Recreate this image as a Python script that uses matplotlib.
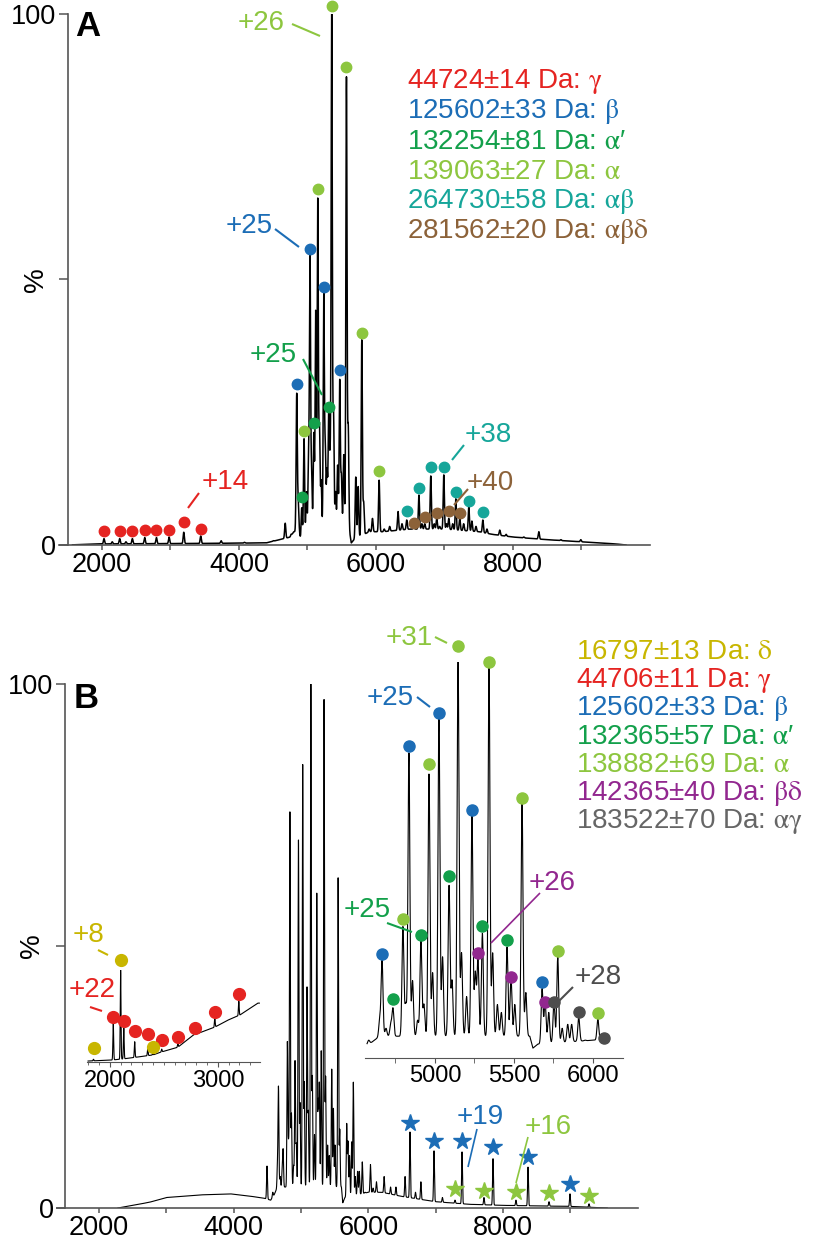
import numpy as np
import matplotlib
matplotlib.use("Agg")
import matplotlib.pyplot as plt
from matplotlib.lines import Line2D

plt.rcParams['font.family'] = ['Liberation Sans', 'DejaVu Sans']
plt.rcParams['mathtext.fontset'] = 'stix'

# ---------------- colours ----------------
C_GAMMA = '#E52421'
C_BETA = '#1C6DB6'
C_APRIME = '#13A04B'
C_ALPHA = '#8DC63F'
C_AB = '#16A69A'
C_ABD = '#8C6239'
C_DELTA = '#C8B600'
C_BD = '#92278F'
C_AG = '#4D4D4D'
C_AG_TXT = '#666666'

# ---------------- panel A data ----------------
A_base_mz = [1500, 1950, 3500, 4400, 4750, 4800, 4880, 4900, 5600, 5640, 5680, 5900, 6100, 6500, 7000, 7500, 7700, 8000, 8500, 9000, 9500, 9650]
A_base_y = [0, 0.2, 0.3, 0.4, 1.5, 2.5, 2.5, 1.0, 3.5, 0.4, 1.0, 2.5, 2.5, 3.0, 3.0, 2.5, 2.0, 1.5, 1.0, 0.6, 0.2, 0]
A_peak_mz = [2030, 2150, 2259, 2350, 2444, 2624, 2795, 2980, 3194, 3442, 3740, 4080, 4500, 4675, 4760,
             4843, 4865, 4916, 4950, 4985, 5015, 5037, 5060, 5092, 5120, 5150, 5175, 5200, 5238, 5260,
             5285, 5310, 5330, 5354, 5380, 5410, 5440, 5471, 5495, 5530, 5569, 5595, 5705, 5740, 5793,
             5820, 5900, 5949, 6046, 6120, 6200, 6322, 6380, 6449, 6508, 6552, 6627, 6670, 6712, 6760,
             6800, 6850, 6887, 6930, 6990, 7030, 7063, 7120, 7165, 7223, 7280, 7355, 7400, 7460, 7560,
             7620, 7807, 7900, 8158, 8377, 8700, 8990]
A_peak_h = [1.2, 0.6, 1.2, 0.6, 1.2, 1.4, 1.4, 1.5, 2.4, 1.7, 0.8, 0.5, 0.8, 4.1, 2.0,
            28.4, 8, 7, 20, 10, 16, 54, 14, 21, 44, 65, 22, 12, 47, 18,
            14, 24.5, 15, 100, 25, 10, 15, 31, 13, 17, 88, 22, 12.8, 11, 38.6,
            8, 3, 5, 12.2, 3, 3.5, 6.3, 4, 4.7, 3, 3.5, 9.4, 4, 4, 3,
            13, 4, 5, 3.5, 13.2, 4, 5, 4, 8.7, 5, 4, 7.2, 4.5, 3.5, 4.7,
            3, 2.8, 2, 1.5, 2.5, 1, 1]

A_gamma_mz = [2030, 2259, 2444, 2624, 2795, 2980, 3194, 3442]
A_gamma_y = [2.7, 2.7, 2.7, 2.8, 2.8, 2.9, 4.4, 3.1]
A_beta_mz = [4843, 5037, 5238, 5471]
A_beta_y = [30.3, 55.8, 48.6, 33.0]
A_aprime_mz = [4916, 5092, 5310]
A_aprime_y = [9.0, 23.0, 26.0]
A_alpha_mz = [4950, 5150, 5354, 5569, 5793, 6046]
A_alpha_y = [21.5, 67.0, 101.6, 90.0, 40.0, 14.0]
A_ab_mz = [6449, 6627, 6800, 6990, 7165, 7355, 7560]
A_ab_y = [6.4, 10.7, 14.7, 14.7, 10.0, 8.3, 6.2]
A_abd_mz = [6552, 6712, 6887, 7063, 7223]
A_abd_y = [4.1, 5.3, 6.0, 6.4, 6.0]

A_legend = ["44724±14 Da: $\\mathrm{\\gamma}$", "125602±33 Da: $\\mathrm{\\beta}$",
            "132254±81 Da: $\\mathrm{\\alpha}$′", "139063±27 Da: $\\mathrm{\\alpha}$",
            "264730±58 Da: $\\mathrm{\\alpha\\beta}$", "281562±20 Da: $\\mathrm{\\alpha\\beta\\delta}$"]
A_legend_colors = [C_GAMMA, C_BETA, C_APRIME, C_ALPHA, C_AB, C_ABD]

# ---------------- panel B data (main + high m/z inset share one spectrum) ----------------
B_base_mz = [1500, 2280, 2500, 2750, 3000, 3500, 3950, 4220, 4440, 4550, 4600, 4650, 5600, 5620, 5650, 6000, 6200, 6500, 7000, 7500, 8000, 9000, 9550]
B_base_y = [0, 0, 0.5, 1.1, 2.0, 2.5, 2.7, 2.3, 1.9, 1.5, 2.5, 4.0, 4.0, 1.0, 2.0, 3.0, 3.0, 2.2, 1.2, 0.7, 0.5, 0.3, 0]
B_peak_mz = [4495, 4580, 4650, 4665, 4690, 4720, 4734, 4760, 4797, 4815, 4835, 4858, 4890, 4911, 4930,
             4962, 4985, 5025, 5048, 5089, 5108, 5146, 5168, 5200, 5234, 5255, 5272, 5300, 5342, 5365,
             5395, 5420, 5456, 5481, 5505, 5551, 5575, 5678, 5697, 5720, 5753, 5777, 5805, 5840, 5865,
             5910, 5950, 6031, 6070, 6120, 6234, 6330, 6410, 6545, 6618, 6700, 6780, 6975, 7100, 7287,
             7391, 7717, 7851, 8192, 8371, 8683, 8994, 9277]
B_peak_h = [8, 3, 8, 23, 6, 7, 11, 4, 31.6, 12, 75.5, 18, 8, 28, 12,
            70.2, 20, 84.6, 24, 42, 18, 100, 25, 14, 60, 20, 23.5, 30, 97, 25,
            12, 10, 26.5, 19, 12, 63, 15, 16, 12.6, 10, 12.6, 24, 6, 7, 7,
            8.8, 3, 8.3, 3.8, 5, 6, 4, 4, 6, 14.5, 3, 5, 10.9, 2, 1.5,
            10.7, 2.0, 9.4, 1.5, 7.8, 1.2, 2.7, 0.8]

B_beta_star_mz = [6618, 6975, 7391, 7851, 8371, 8994]
B_beta_star_y = [16.2, 12.8, 12.8, 11.6, 9.7, 4.6]
B_alpha_star_mz = [7287, 7717, 8192, 8683, 9277]
B_alpha_star_y = [3.6, 3.2, 3.1, 2.9, 2.3]

# high m/z inset dots (inset % scale)
I2_beta_mz = [4665, 4835, 5025, 5234, 5678]
I2_beta_y = [26.3, 78.8, 87.1, 62.6, 19.2]
I2_alpha_mz = [4797, 4962, 5146, 5342, 5551, 5777, 6031]
I2_alpha_y = [35.1, 74.2, 104.0, 100.0, 65.7, 27.0, 11.4]
I2_aprime_mz = [4734, 4911, 5089, 5300, 5456]
I2_aprime_y = [14.9, 31.1, 46.0, 33.3, 29.8]
I2_bd_mz = [5272, 5481, 5697]
I2_bd_y = [26.5, 20.5, 14.1]
I2_ag_mz = [5753, 5910, 6070]
I2_ag_y = [14.1, 11.6, 5.1]

# low m/z inset
I1_base_mz = [1790, 2000, 2100, 2231, 2398, 2481, 2630, 2769, 2974, 3083, 3203, 3370, 3390]
I1_base_y = [1, 2, 3, 5, 7.6, 11, 16, 29, 38, 45, 51, 64, 64]
I1_peak_mz = [1850, 2033, 2101, 2130, 2231, 2352, 2398, 2481, 2630, 2787, 2972, 3194]
I1_peak_h = [3, 42, 100, 37, 22, 15, 9, 14, 20, 34, 48, 66]
I1_gamma_mz = [2030, 2132, 2234, 2354, 2484, 2632, 2789, 2974, 3196]
I1_gamma_y = [49, 45, 34, 30, 24, 27, 37, 54, 74]
I1_delta_mz = [1855, 2105, 2400]
I1_delta_y = [15, 111, 16]

B_legend = ["16797±13 Da: $\\mathrm{\\delta}$", "44706±11 Da: $\\mathrm{\\gamma}$",
            "125602±33 Da: $\\mathrm{\\beta}$", "132365±57 Da: $\\mathrm{\\alpha}$′",
            "138882±69 Da: $\\mathrm{\\alpha}$", "142365±40 Da: $\\mathrm{\\beta\\delta}$",
            "183522±70 Da: $\\mathrm{\\alpha\\gamma}$"]
B_legend_colors = [C_DELTA, C_GAMMA, C_BETA, C_APRIME, C_ALPHA, C_BD, C_AG_TXT]


def spectrum(lo, hi, base_mz, base_y, pk_mz, pk_h, sigma):
    grid = np.arange(lo, hi, 1.0)
    y = np.interp(grid, base_mz, base_y)
    for m, h in zip(pk_mz, pk_h):
        amp = max(h - np.interp(m, base_mz, base_y), 0)
        y = y + amp * np.exp(-0.5 * ((grid - m) / sigma) ** 2)
    return grid, y


W, H = 816, 1240
fig = plt.figure(figsize=(W / 100, H / 100), dpi=100)


def fx(x):
    return x / W


def fy(y):
    return 1 - y / H


def axes_px(x0, x1, ytop, ybot):
    a = fig.add_axes([x0 / W, 1 - ybot / H, (x1 - x0) / W, (ybot - ytop) / H])
    a.patch.set_visible(False)
    return a


def label(txt, x, y, color, size=20, ha='center', **kw):
    fig.text(fx(x), fy(y), txt, color=color, fontsize=size, ha=ha, va='center', **kw)


def leader(x0, y0, x1, y1, color, lw=1.5):
    fig.add_artist(Line2D([fx(x0), fx(x1)], [fy(y0), fy(y1)], transform=fig.transFigure,
                          color=color, lw=lw, solid_capstyle='butt'))


def dots(ax, xs, ys, color, ms=7.5, marker='o'):
    ax.plot(xs, ys, ls='none', marker=marker, ms=ms, color=color, mec=color, clip_on=False, zorder=5)


SPINE = '#555555'


def style_main(ax):
    ax.set_xlim(1370, 10000)
    ax.set_ylim(0, 100)
    for s in ('top', 'right'):
        ax.spines[s].set_visible(False)
    ax.spines['left'].set_position(('data', 1500))
    ax.spines['left'].set_bounds(0, 100)
    for s in ('left', 'bottom'):
        ax.spines[s].set_color(SPINE)
        ax.spines[s].set_linewidth(1.2)
    ax.set_xticks([2000, 4000, 6000, 8000])
    ax.set_xticks([3000, 5000, 7000, 9000], minor=True)
    ax.tick_params(axis='x', which='both', direction='out', length=3.8, width=1.1, color=SPINE,
                   labelsize=19.5, pad=1.5)
    ax.tick_params(axis='y', which='both', direction='out', length=6.5, width=1.1, color=SPINE,
                   labelsize=19.5, pad=2)


# ================= Panel A =================
axA = axes_px(58.8, 650, 14, 545)
style_main(axA)
axA.set_yticks([0, 50, 100])
axA.set_yticklabels(['0', '', '100'])
gx, gy = spectrum(1570, 9650, A_base_mz, A_base_y, A_peak_mz, A_peak_h, 8.5)
axA.plot(gx, gy, color='black', lw=1.1)
dots(axA, A_gamma_mz, A_gamma_y, C_GAMMA)
dots(axA, A_beta_mz, A_beta_y, C_BETA)
dots(axA, A_aprime_mz, A_aprime_y, C_APRIME)
dots(axA, A_alpha_mz, A_alpha_y, C_ALPHA)
dots(axA, A_ab_mz, A_ab_y, C_AB)
dots(axA, A_abd_mz, A_abd_y, C_ABD)

fig.text(fx(88), fy(26), 'A', fontsize=25, fontweight='bold', ha='center', va='center')
fig.text(fx(36), fy(280), '%', fontsize=20, rotation=90, ha='center', va='center')
for i, (t, c) in enumerate(zip(A_legend, A_legend_colors)):
    fig.text(fx(407), fy(82 + 30 * i), t, color=c, fontsize=20, ha='left', va='center')

label('+26', 261, 23, C_ALPHA)
leader(292, 24, 320, 36, C_ALPHA)
label('+25', 249, 226, C_BETA)
leader(275, 229, 299, 247, C_BETA)
label('+25', 273, 355, C_APRIME)
leader(303, 359, 322, 395, C_APRIME)
label('+14', 225, 482, C_GAMMA)
leader(199, 493, 188, 508, C_GAMMA)
label('+38', 488, 435, C_AB)
leader(464, 445, 452, 460, C_AB)
label('+40', 490, 483, C_ABD)
leader(468, 489, 454, 505, C_ABD)

# ================= Panel B =================
axB = axes_px(56.6, 637.7, 684, 1208)
style_main(axB)
axB.set_yticks([0, 50, 100])
axB.set_yticklabels(['0', '', '100'])
bx, by = spectrum(2280, 9550, B_base_mz, B_base_y, B_peak_mz, B_peak_h, 6.5)
axB.plot(bx, by, color='black', lw=0.8)
dots(axB, B_beta_star_mz, B_beta_star_y, C_BETA, ms=13, marker='*')
dots(axB, B_alpha_star_mz, B_alpha_star_y, C_ALPHA, ms=13, marker='*')

fig.text(fx(86), fy(698), 'B', fontsize=25, fontweight='bold', ha='center', va='center')
fig.text(fx(32), fy(946), '%', fontsize=20, rotation=90, ha='center', va='center')
for i, (t, c) in enumerate(zip(B_legend, B_legend_colors)):
    fig.text(fx(576), fy(652 + 28.3 * i), t, color=c, fontsize=20, ha='left', va='center')

label('+19', 480, 1117, C_BETA)
leader(477, 1129, 468, 1167, C_BETA, lw=1.2)
label('+16', 548, 1127, C_ALPHA)
leader(528, 1137, 516, 1183, C_ALPHA, lw=1.2)

# ---- low m/z inset ----
axI1 = axes_px(87, 260, 970, 1062)
axI1.set_xlim(1790, 3390)
axI1.set_ylim(0, 100)
for s in ('top', 'right', 'left'):
    axI1.spines[s].set_visible(False)
axI1.spines['bottom'].set_color(SPINE)
axI1.set_yticks([])
axI1.set_xticks([2000, 3000])
axI1.set_xticks(np.arange(1800, 3400, 100), minor=True)
axI1.tick_params(axis='x', which='major', length=3.5, color=SPINE, labelsize=17, pad=2)
axI1.tick_params(axis='x', which='minor', length=2.2, color=SPINE)
ix, iy = spectrum(1800, 3385, I1_base_mz, I1_base_y, I1_peak_mz, I1_peak_h, 3.5)
axI1.plot(ix, iy, color='black', lw=0.8)
dots(axI1, I1_gamma_mz, I1_gamma_y, C_GAMMA, ms=8.5)
dots(axI1, I1_delta_mz, I1_delta_y, C_DELTA, ms=8.5)
label('+8', 89, 935, C_DELTA)
leader(98, 950, 108, 955, C_DELTA)
label('+22', 92, 990, C_GAMMA)
leader(90, 1007, 102, 1011, C_GAMMA)

# ---- high m/z inset ----
axI2 = axes_px(365, 623, 662, 1058)
axI2.set_xlim(4557, 6190)
axI2.set_ylim(0, 100)
for s in ('top', 'right', 'left'):
    axI2.spines[s].set_visible(False)
axI2.spines['bottom'].set_color(SPINE)
axI2.set_yticks([])
axI2.set_xticks([5000, 5500, 6000])
axI2.set_xticks([4750, 5250, 5750], minor=True)
axI2.tick_params(axis='x', which='both', length=3.8, color=SPINE, labelsize=17, pad=1)
hx, hy = spectrum(4570, 6095, B_base_mz, B_base_y, B_peak_mz, B_peak_h, 6.0)
axI2.plot(hx, hy + 1.5, color='black', lw=0.8)
dots(axI2, I2_beta_mz, I2_beta_y, C_BETA, ms=8)
dots(axI2, I2_alpha_mz, I2_alpha_y, C_ALPHA, ms=8)
dots(axI2, I2_aprime_mz, I2_aprime_y, C_APRIME, ms=8)
dots(axI2, I2_bd_mz, I2_bd_y, C_BD, ms=8)
dots(axI2, I2_ag_mz, I2_ag_y, C_AG, ms=8)

label('+31', 409, 638, C_ALPHA)
leader(435, 637, 447, 643, C_ALPHA)
label('+25', 390, 698, C_BETA)
leader(417, 697, 430, 707, C_BETA)
label('+25', 367, 910, C_APRIME)
leader(387, 923, 412, 932, C_APRIME)
label('+26', 552, 883, C_BD)
leader(540, 893, 491, 943, C_BD, lw=1.2)
label('+28', 598, 977, C_AG)
leader(573, 987, 559, 1001, C_AG)

fig.savefig('out.png', dpi=100)
